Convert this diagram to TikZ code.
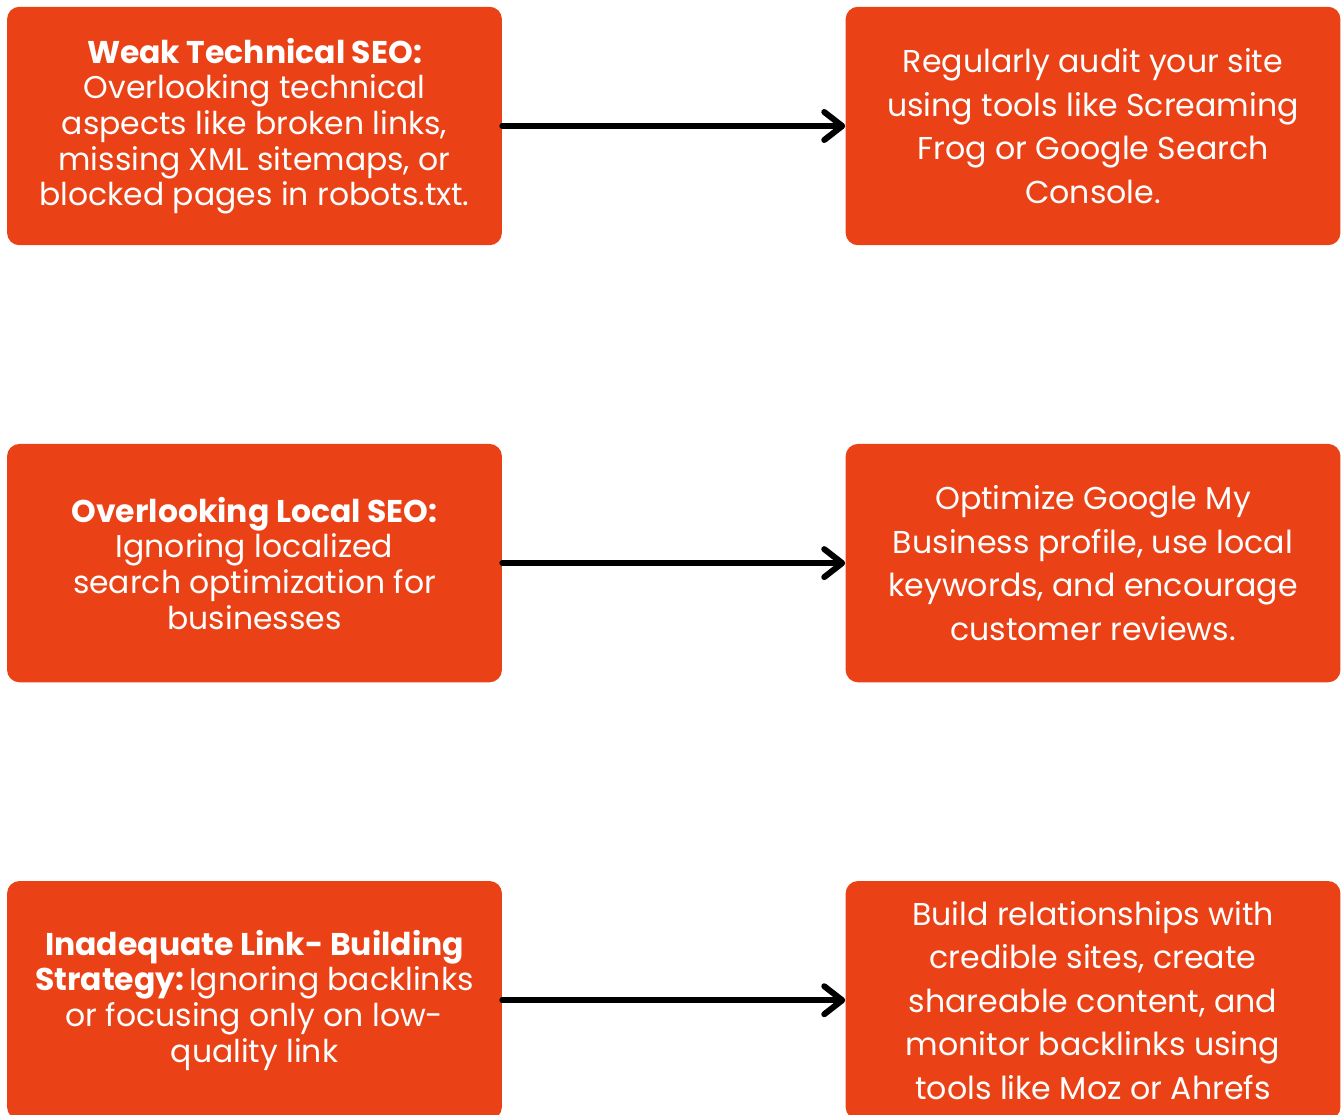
\documentclass[tikz,border=0pt]{standalone}
\usepackage{fontspec}
\setmainfont{Poppins}
\usetikzlibrary{arrows.meta,positioning}
\definecolor{seored}{RGB}{234, 66, 22}
\tikzstyle{card} = [
  rectangle,
  rounded corners=0.25cm,
  fill=seored,
  text=white,
  align=center,
  minimum width=9.9cm,
  minimum height=4.77cm,
  inner sep=0pt,
]
\tikzstyle{problem} = [card, font=\fontsize{17.9}{20.3}\selectfont]
\tikzstyle{fix} = [card, font=\fontsize{18}{24.75}\selectfont]
\tikzstyle{link} = [
  line width=0.12cm,
  line cap=round,
  -{Straight Barb[length=0.36cm, width=0.56cm, round]},
]

\begin{document}
\begin{tikzpicture}[x=0.02cm, y=-0.02cm]
            \def\across{6.86cm}
            \def\down{3.96cm}

            \useasboundingbox (0,0) rectangle (1343,1115);
            \clip (0,0) rectangle (1343,1115);

            % Problems
            \node[problem] (weak) at (254.5,126)
              {\textbf{Weak Technical SEO:}\\ Overlooking technical\\ aspects like broken links,\\ missing XML sitemaps, or\\ blocked pages in robots.txt.};
            \node[problem, below=\down of weak] (local)
              {\textbf{Overlooking Local SEO:}\\ Ignoring localized\\ search optimization for\\ businesses};
            \node[problem, below=\down of local] (links)
              {\textbf{Inadequate Link- Building}\\ \textbf{Strategy:}\hspace{0.15em}Ignoring backlinks\\ or focusing only on low-\\ quality link};

            % Fixes
            \node[fix, right=\across of weak] (audit)
              {Regularly audit your site\\ using tools like Screaming\\ Frog or Google Search\\ Console.};
            \node[fix, right=\across of local] (profile)
              {Optimize Google My\\ Business profile, use local\\ keywords, and encourage\\ customer reviews.};
            \node[fix, right=\across of links] (outreach)
              {Build relationships with\\ credible sites, create\\ shareable content, and\\ monitor backlinks using\\ tools like Moz or Ahrefs};

            % Arrows
            \draw[link] (weak) -- (audit);
            \draw[link] (local) -- (profile);
            \draw[link] (links) -- (outreach);
          \end{tikzpicture}
\end{document}
